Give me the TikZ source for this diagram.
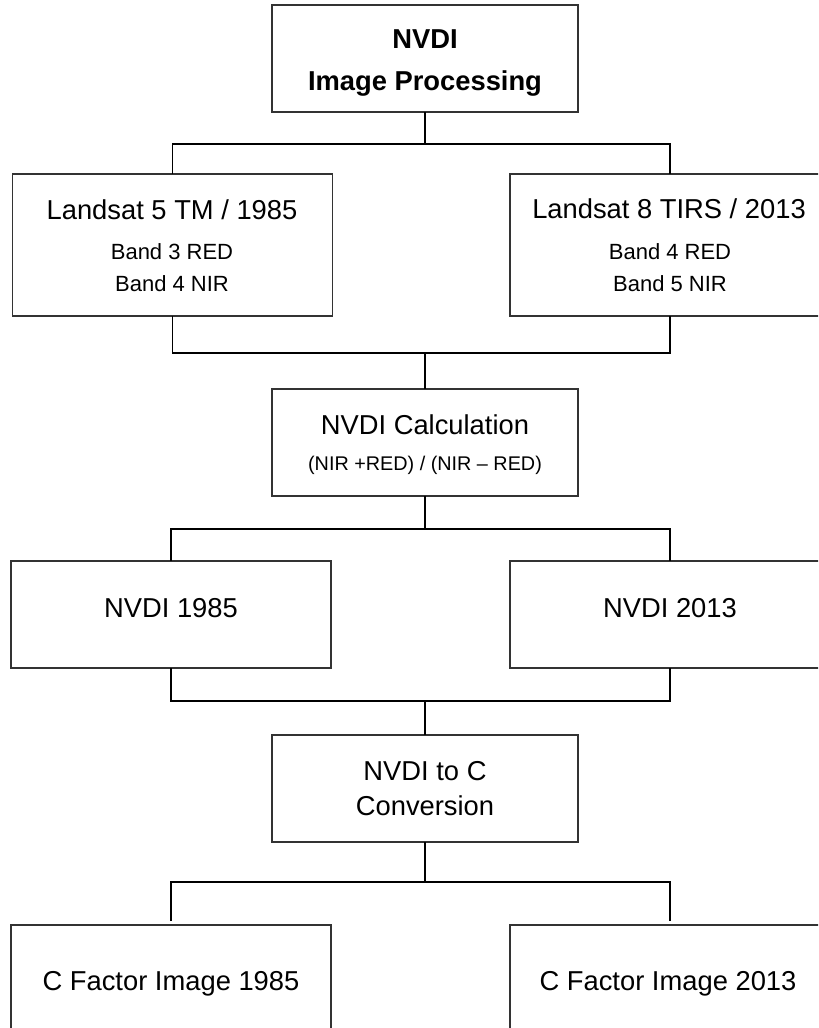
\documentclass[tikz,border=0pt]{standalone}
\usepackage{fontspec}
\setmainfont{Liberation Sans}
\begin{document}
\begin{tikzpicture}[x=0.75pt,y=-0.75pt,
  box/.style={draw=black!80, line width=0.8pt, inner sep=0pt, outer sep=0pt, fill=white},
  cbox/.style={box, minimum width=229.5pt, minimum height=80.25pt},
  sbox/.style={box, minimum width=240pt, minimum height=80.25pt},
  lbox/.style={box, minimum width=240pt, minimum height=106.5pt},
  conn/.style={line width=1.4pt, black},
  big/.style={anchor=base, inner sep=0pt, font=\fontsize{20.5}{24}\selectfont},
  bigb/.style={big, font=\fontsize{20.5}{24}\selectfont\bfseries},
  mid/.style={anchor=base, inner sep=0pt, font=\fontsize{16.5}{20}\selectfont},
  small/.style={anchor=base, inner sep=0pt, font=\fontsize{14.85}{18}\selectfont}]
\useasboundingbox (0,0) rectangle (818,1028);
\clip (0,0) rectangle (818,1028);

% boxes
\node[cbox] (top) at (425,58.5) {};
\node[lbox] (ls5) at (172.5,245) {};
\node[lbox] (ls8) at (670,245) {};
\node[cbox] (calc) at (425,442.5) {};
\node[sbox] (nv85) at (171,614.5) {};
\node[sbox] (nv13) at (670,614.5) {};
\node[cbox] (conv) at (425,788.5) {};
\node[sbox] (cf85) at (171,978.5) {};
\node[sbox] (cf13) at (670,978.5) {};

% texts
\node[bigb] (ttop1) at (425,48) {NVDI};
\node[bigb] (ttop2) at (425,90) {Image Processing};
\node[big] (tls5) at (172,219.5) {Landsat 5 TM / 1985};
\node[mid] (tls5a) at (172,259.5) {Band 3 RED};
\node[mid] (tls5b) at (172,291) {Band 4 NIR};
\node[big] (tls8) at (669,218.5) {Landsat 8 TIRS / 2013};
\node[mid] (tls8a) at (670,259) {Band 4 RED};
\node[mid] (tls8b) at (670,291) {Band 5 NIR};
\node[big] (tcalc1) at (425,434) {NVDI Calculation};
\node[small] (tcalc2) at (425,470) {(NIR +RED) / (NIR – RED)};
\node[big] (tnv85) at (171,617) {NVDI 1985};
\node[big] (tnv13) at (670,617) {NVDI 2013};
\node[big] (tconv1) at (425,780) {NVDI to C};
\node[big] (tconv2) at (425,815) {Conversion};
\node[big] (tcf85) at (171,990) {C Factor Image 1985};
\node[big] (tcf13) at (668,990) {C Factor Image 2013};

% junctions
\coordinate (j1) at (425,144);
\coordinate (j2) at (425,353);
\coordinate (j3) at (425,529);
\coordinate (j4) at (425,701);
\coordinate (j5) at (425,882);

% connectors
\draw[conn] (top.south) -- (j1);
\draw[conn] (ls5.north) |- (j1) -| (ls8.north);
\draw[conn] (ls5.south) |- (j2) -| (ls8.south);
\draw[conn] (j2) -- (calc.north);
\draw[conn] (calc.south) -- (j3);
\draw[conn] (nv85.north) |- (j3) -| (nv13.north);
\draw[conn] (nv85.south) |- (j4) -| (nv13.south);
\draw[conn] (j4) -- (conv.north);
\draw[conn] (conv.south) -- (j5);
\draw[conn] ([yshift=3pt]cf85.north) |- (j5) -| ([yshift=3pt]cf13.north);
\end{tikzpicture}
\end{document}
